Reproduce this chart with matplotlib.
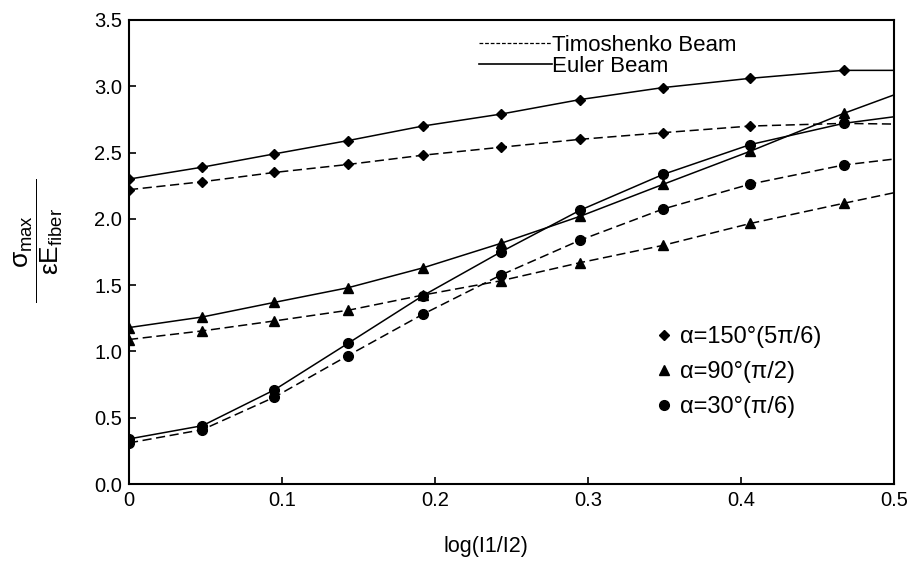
import matplotlib
matplotlib.use('Agg')
import matplotlib.pyplot as plt
from matplotlib.lines import Line2D

plt.rcParams['font.family'] = ['Liberation Sans', 'DejaVu Sans']
plt.rcParams['mathtext.fontset'] = 'custom'
plt.rcParams['mathtext.rm'] = 'Liberation Sans'
plt.rcParams['mathtext.it'] = 'Liberation Sans'
plt.rcParams['mathtext.bf'] = 'Liberation Sans:bold'

# log(l1/l2) positions of the computed points, last value is the curve end
x = [0, 0.048, 0.095, 0.143, 0.192, 0.243, 0.295, 0.349, 0.406, 0.467, 0.5]

euler_150 = [2.30, 2.39, 2.49, 2.59, 2.70, 2.79, 2.90, 2.99, 3.06, 3.12, 3.12]
timo_150 = [2.22, 2.28, 2.35, 2.41, 2.48, 2.54, 2.60, 2.65, 2.70, 2.72, 2.715]
euler_90 = [1.18, 1.26, 1.37, 1.48, 1.63, 1.815, 2.02, 2.26, 2.51, 2.795, 2.935]
timo_90 = [1.09, 1.155, 1.23, 1.31, 1.425, 1.533, 1.67, 1.80, 1.965, 2.117, 2.197]
euler_30 = [0.34, 0.44, 0.71, 1.06, 1.42, 1.75, 2.066, 2.335, 2.56, 2.72, 2.77]
timo_30 = [0.31, 0.41, 0.655, 0.968, 1.28, 1.576, 1.84, 2.074, 2.262, 2.406, 2.451]

angle_labels = ['α=150°(5π/6)', 'α=90°(π/2)', 'α=30°(π/6)']
xticks = [0, 0.1, 0.2, 0.3, 0.4, 0.5]
xticklabels = ['0', '0.1', '0.2', '0.3', '0.4', '0.5']
yticks = [0.0, 0.5, 1.0, 1.5, 2.0, 2.5, 3.0, 3.5]

fig = plt.figure(figsize=(9.13, 5.63), dpi=100)
ax = fig.add_axes([0.1413, 0.1403, 0.8379, 0.8242])

marks = slice(0, 10)
dash = (6, 3)
series = [
    (euler_150, 'D', '-', 5.5),
    (timo_150, 'D', '--', 5.5),
    (euler_90, '^', '-', 7),
    (timo_90, '^', '--', 7),
    (euler_30, 'o', '-', 7),
    (timo_30, 'o', '--', 7),
]
for ys, mk, ls, ms in series:
    line, = ax.plot(x, ys, color='black', lw=1.1, ls=ls, marker=mk, ms=ms,
                    markevery=marks)
    if ls == '--':
        line.set_dashes(dash)

ax.set_xlim(0, 0.5)
ax.set_ylim(0, 3.5)
ax.set_xticks(xticks)
ax.set_xticklabels(xticklabels)
ax.set_yticks(yticks)
ax.set_yticklabels([f'{v:.1f}' for v in yticks])
ax.tick_params(direction='in', length=5, width=1.2, labelsize=14.5, pad=5)
for s in ax.spines.values():
    s.set_linewidth(1.5)

ax.set_xlabel('log(I1/I2)', fontsize=15.5)
ax.xaxis.set_label_coords(0.467, -0.112)

fig.text(39 / 913, 1 - 241 / 563,
         r'$\dfrac{\quad\;\sigma_{max}\quad\;}{\quad\;\varepsilon E_{fiber}\quad\;}$',
         rotation=90, ha='center', va='center', fontsize=19)

# beam type legend
beam_handles = [
    Line2D([], [], color='black', lw=0.9, dashes=(3, 1.5)),
    Line2D([], [], color='black', lw=1.2, ls='-'),
]
leg1 = ax.legend(beam_handles, ['Timoshenko Beam', 'Euler Beam'],
                 loc='upper left', bbox_to_anchor=(0.4575, 0.968),
                 frameon=False, fontsize=16, handlelength=3.3,
                 handletextpad=0.0, labelspacing=0.0, borderpad=0,
                 borderaxespad=0)
ax.add_artist(leg1)

# angle legend
angle_handles = [
    Line2D([], [], color='black', ls='none', marker='D', ms=5.5),
    Line2D([], [], color='black', ls='none', marker='^', ms=7),
    Line2D([], [], color='black', ls='none', marker='o', ms=7),
]
ax.legend(angle_handles, angle_labels, loc='upper left',
          bbox_to_anchor=(0.69, 0.34), frameon=False, fontsize=17,
          handlelength=0.6, handletextpad=0.4, labelspacing=0.55,
          borderpad=0, borderaxespad=0)

fig.savefig('out.png', dpi=100)
